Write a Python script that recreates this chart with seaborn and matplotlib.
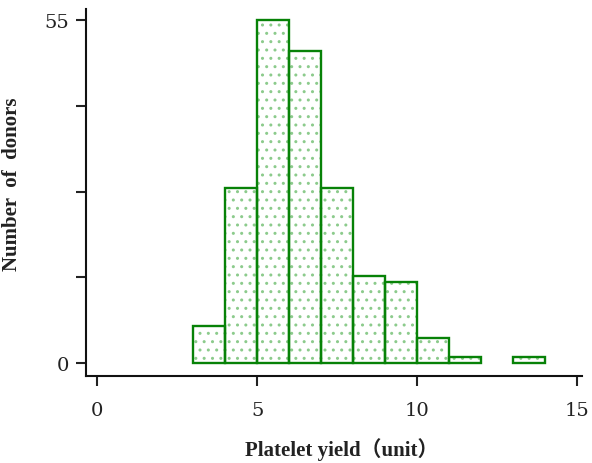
import numpy as np
import pandas as pd
import matplotlib
matplotlib.use("Agg")
import matplotlib.pyplot as plt
import seaborn as sns

# Data
bin_edges = [3, 4, 5, 6, 7, 8, 9, 10, 11, 12, 13, 14]
counts = [6, 28, 55, 50, 28, 14, 13, 4, 1, 0, 1]
x_ticks = [0, 5, 10, 15]
y_ticks = [0, 13.75, 27.5, 41.25, 55]
y_tick_labels = ["0", "", "", "", "55"]

centers = [(a + b) / 2 for a, b in zip(bin_edges[:-1], bin_edges[1:])]
df = pd.DataFrame({"yield": centers, "n": counts})

sns.set_style("ticks")
plt.rcParams["font.family"] = ["DejaVu Serif"]

fig = plt.figure(figsize=(5.92, 4.64), dpi=100)
ax = fig.add_axes([86 / 592, 1 - 377 / 464, (582 - 86) / 592, (377 - 10) / 464])

# hatched fill
sns.histplot(data=df, x="yield", weights="n", bins=bin_edges, ax=ax,
             stat="count", element="bars", fill=True,
             facecolor="white", edgecolor="#8ccb8c", linewidth=0, hatch="..",
             alpha=1)
# outline
sns.histplot(data=df, x="yield", weights="n", bins=bin_edges, ax=ax,
             stat="count", element="bars", fill=False,
             color="#078207", linewidth=1.7)

# hide empty bins
for p in ax.patches:
    if p.get_height() == 0:
        p.set_visible(False)

ax.set_xlim(-0.35, 15.15)
ax.set_ylim(-2.1, 56.8)
ax.set_xticks(x_ticks)
ax.set_xticklabels([str(t) for t in x_ticks])
ax.set_yticks(y_ticks)
ax.set_yticklabels(y_tick_labels)
ax.tick_params(axis="both", direction="out", length=7, width=1.5,
               labelsize=14, colors="#222222", pad=5)
ax.tick_params(axis="x", pad=11)
for s in ["top", "right"]:
    ax.spines[s].set_visible(False)
for s in ["left", "bottom"]:
    ax.spines[s].set_linewidth(1.5)
    ax.spines[s].set_color("#111111")

ax.set_xlabel("Platelet yield（unit）", fontsize=15, fontweight="bold",
              family=["Liberation Serif", "Noto Sans CJK SC"], labelpad=13,
              color="#222222")
ax.set_ylabel("Number  of  donors", fontsize=15, fontweight="bold",
              family=["Liberation Serif"], labelpad=16, color="#222222")
ax.xaxis.label.set_x(0.516)
ax.yaxis.label.set_y(0.526)

fig.savefig("out.png", dpi=100)
